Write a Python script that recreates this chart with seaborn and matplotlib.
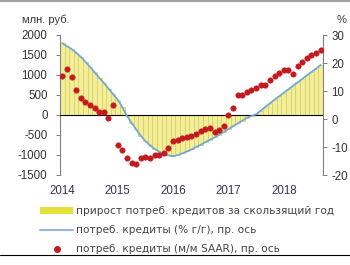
import numpy as np
import pandas as pd
import matplotlib
matplotlib.use("Agg")
import matplotlib.pyplot as plt
from matplotlib.patches import Patch
from matplotlib.lines import Line2D
import seaborn as sns

# monthly data, Jan 2014 .. Sep 2018
months = pd.date_range("2014-01-01", periods=57, freq="MS")

# growth of consumer loans over rolling year, mln rub (left axis)
growth_year = [1800, 1720, 1650, 1560, 1450, 1330, 1200, 1070, 930, 800,
               660, 520, 380, 200, -20, -200, -360, -520, -650, -760,
               -850, -920, -970, -1010, -1030, -1000, -960, -910, -860, -800,
               -740, -680, -620, -560, -490, -420, -350, -280, -210, -140,
               -70, -20, 20, 110, 200, 290, 380, 470, 555, 640,
               730, 815, 900, 990, 1075, 1160, 1250]

# consumer loans, % y/y (right axis)
loans_yoy = [27.1, 26.0, 25.0, 23.7, 22.2, 20.5, 18.6, 16.7, 14.7, 12.9,
             10.9, 8.9, 6.9, 4.3, 1.1, -1.4, -3.7, -6.0, -7.9, -9.4,
             -10.7, -11.7, -12.4, -13.0, -13.3, -12.9, -12.3, -11.6, -10.9, -10.0,
             -9.2, -8.3, -7.4, -6.6, -5.6, -4.6, -3.6, -2.6, -1.6, -0.6,
             0.4, 1.1, 1.7, 3.0, 4.3, 5.6, 6.9, 8.1, 9.4, 10.6,
             11.9, 13.1, 14.3, 15.6, 16.8, 18.0, 19.3]

# consumer loans, m/m SAAR (right axis)
loans_saar = [15.5, 18.0, 15.0, 10.5, 7.5, 6.0, 5.0, 3.8, 2.5, 2.5,
              0.4, 5.0, -9.3, -11.0, -14.0, -15.7, -16.2, -14.0, -13.6, -13.9,
              -12.9, -12.9, -12.0, -10.5, -7.8, -7.5, -6.8, -6.6, -6.0, -5.2,
              -4.4, -3.6, -3.3, -4.8, -4.0, -2.5, 1.5, 4.0, 8.6, 8.6,
              9.6, 10.5, 11.2, 12.0, 12.1, 13.8, 15.5, 16.6, 17.5, 17.5,
              16.0, 19.0, 20.4, 21.8, 22.8, 23.5, 24.6]

year_labels = ["2014", "2015", "2016", "2017", "2018"]

labels = ["прирост потреб. кредитов за скользящий год",
          "потреб. кредиты (% г/г), пр. ось",
          "потреб. кредиты (м/м SAAR), пр. ось"]

df = pd.DataFrame({"n": np.arange(len(months)), "growth": growth_year,
                   "yoy": loans_yoy, "saar": loans_saar})

sns.set_style("white")
plt.rcParams["font.family"] = ["Liberation Sans", "DejaVu Sans"]
plt.rcParams["axes.unicode_minus"] = False

fig = plt.figure(figsize=(3.5, 2.65), dpi=100)
ax = fig.add_axes([60 / 350, 1 - 175 / 265, 263 / 350, 140 / 265])
ax2 = ax.twinx()

yellow = "#f4ef94"
blue = "#72a9d6"
red = "#c41a1e"

sns.barplot(data=df, x="n", y="growth", ax=ax, color=yellow, width=1.0,
            edgecolor="#d2cc72", linewidth=0.5, saturation=1)
ax.axhline(0, color="black", lw=0.8, zorder=3)

sns.lineplot(data=df, x="n", y="yoy", ax=ax2, color=blue, lw=1.3)
sns.scatterplot(data=df, x="n", y="saar", ax=ax2, color=red, s=16,
                edgecolor=red, linewidth=0.3, zorder=4)

ax.set_ylim(-1500, 2000)
ax.set_yticks([-1500, -1000, -500, 0, 500, 1000, 1500, 2000])
ax2.set_ylim(-20, 30)
ax2.set_yticks([-20, -10, 0, 10, 20, 30])
ax.set_xlim(-0.5, len(months) - 0.5)
ax.set_xticks([0, 12, 24, 36, 48])
ax.set_xticklabels(year_labels)

for a in (ax, ax2):
    a.set_xlabel("")
    a.set_ylabel("")
    a.spines["top"].set_visible(False)
    a.spines["bottom"].set_visible(False)
ax.spines["right"].set_visible(False)
ax.spines["left"].set_color("#808080")
ax2.spines["left"].set_visible(False)
ax2.spines["right"].set_color("#808080")

ax.tick_params(axis="y", left=True, length=3, width=0.7, colors="#808080",
               labelsize=8.3, labelcolor="#333333", pad=6)
ax2.tick_params(axis="y", right=True, length=3, width=0.7, colors="#808080",
                labelsize=8.3, labelcolor="#333333", pad=3)
ax.tick_params(axis="x", length=0, labelsize=8.3, labelcolor="#333355", pad=7)

fig.text(22 / 350, 1 - 20 / 265, "млн. руб.", fontsize=8, color="#333333",
         va="center")
fig.text(337 / 350, 1 - 20 / 265, "%", fontsize=8, color="#333333",
         va="center")

handles = [Patch(facecolor="#e6e03a", edgecolor="none"),
           Line2D([], [], color="#9db4e2", lw=1.5),
           Line2D([], [], color=red, marker="o", ls="none", markersize=4)]
fig.legend(handles, labels, loc="upper left",
           bbox_to_anchor=(36 / 350, 1 - 202 / 265), frameon=False,
           prop={"family": ["DejaVu Sans"], "size": 7.6},
           handlelength=3.1, handleheight=0.6,
           handletextpad=0.3, labelspacing=0.85, borderaxespad=0,
           labelcolor="#444444")

fig.add_artist(Line2D([0, 1], [1 - 255 / 265, 1 - 255 / 265],
                      color="black", lw=0.8, transform=fig.transFigure))
fig.add_artist(Line2D([0, 1], [1 - 1 / 265, 1 - 1 / 265],
                      color="#a0a0a0", lw=1.5, transform=fig.transFigure))

fig.savefig("out.png", dpi=100)
